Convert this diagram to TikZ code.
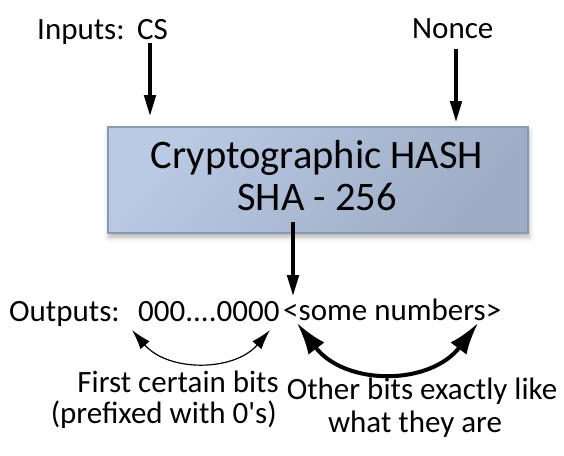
\documentclass[tikz,border=0pt]{standalone}
\usepackage{fontspec}
\setmainfont{Carlito}
\usetikzlibrary{arrows.meta,shadows.blur}

\definecolor{boxlight}{RGB}{186,202,228}
\definecolor{boxdark}{RGB}{158,172,197}
\definecolor{boxedge}{RGB}{138,152,176}

\begin{document}
\begin{tikzpicture}[x=1pt,y=-1pt,
  lbl/.style={inner sep=0pt, font=\fontsize{31}{37}\selectfont},
  hashtxt/.style={inner sep=0pt, font=\fontsize{40.5}{48}\selectfont},
  feed/.style={line width=4.5pt, -{Triangle[length=22pt,width=11pt]}},
  thinspan/.style={line width=1.2pt,
    {Latex[length=20pt,width=12pt]}-{Latex[length=20pt,width=12pt]}},
  thickspan/.style={line width=4pt,
    {Latex[length=32pt,width=20pt]}-{Latex[length=32pt,width=20pt]}},
]
\useasboundingbox (0,0) rectangle (564,455);

% hash function box, lighter towards the top left
\node[draw=boxedge, line width=2pt, top color=boxlight, bottom color=boxdark,
      shading angle=50,
      minimum width=420pt, minimum height=106pt, inner sep=0pt,
      blur shadow={shadow xshift=1pt, shadow yshift=-4pt,
                   shadow blur radius=5pt, shadow opacity=30}]
      (hash) at (318,180) {};
\node[hashtxt, anchor=base] (hashname) at (317,168) {Cryptographic HASH};
\node[hashtxt, anchor=base] (hashalg) at (317,210) {SHA - 256};

% inputs
\node[lbl, anchor=base west] (inputs) at (37,39) {Inputs:};
\node[lbl, anchor=base west] (cs) at (137,39) {CS};
\node[lbl, anchor=base west] (nonce) at (412,38) {Nonce};

\coordinate (cstop) at (150,43);
\coordinate (csend) at (150,117);
\coordinate (noncetop) at (456,49);
\coordinate (nonceend) at (456,123);
\draw[feed] (cstop) -- (csend);
\draw[feed] (noncetop) -- (nonceend);

% output
\coordinate (outtop) at (293,222);
\coordinate (outend) at (293,297);
\draw[feed] (outtop) -- (outend);

\node[lbl, anchor=base west] (outputs) at (9,321) {Outputs:};
\node[lbl, anchor=base west] (zeros) at (138,321) {000....0000};
\node[lbl, anchor=base west] (rest) at (283,320) {<some numbers>};

% spans under the output
\coordinate (zl) at (132,330);
\coordinate (zr) at (270,330);
\draw[thinspan] (zl) .. controls (168,372) and (234,372) .. (zr);
\coordinate (nl) at (297,323);
\coordinate (nr) at (478,323);
\draw[thickspan] (nl) .. controls (345,386) and (430,386) .. (nr);

% captions
\node[lbl, anchor=base east] (firstbits) at (279,392) {First certain bits};
\node[lbl, anchor=base east] (prefixed) at (277,423) {(prefixed with 0\textquotesingle s)};
\node[lbl, anchor=base] (otherbits) at (422,399) {Other bits exactly like};
\node[lbl, anchor=base] (whatthey) at (415,432) {what they are};
\end{tikzpicture}
\end{document}
